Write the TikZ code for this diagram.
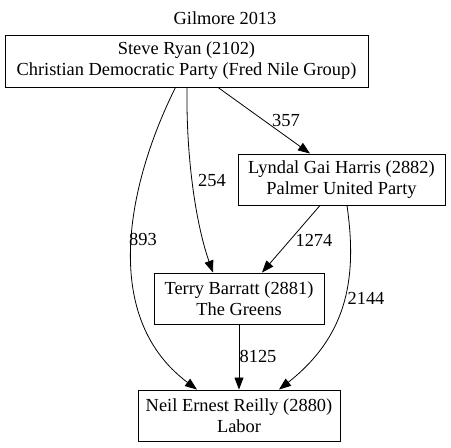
\documentclass[tikz,border=0pt]{standalone}
\usepackage{fontspec}
\setmainfont{Liberation Serif}
\newfontfamily\gvfont{Liberation Serif}
\usetikzlibrary{arrows.meta}
\begin{document}
\begin{tikzpicture}[x=1pt,y=-1pt,
  box/.style={draw,line width=0.9pt,inner sep=0pt,align=center,font=\gvfont\fontsize{18.4}{21}\selectfont},
  lbl/.style={inner sep=0pt,font=\gvfont\fontsize{18.4}{21}\selectfont},
  edge/.style={line width=0.8pt,-{Triangle[length=12pt,width=9pt]}}]
\useasboundingbox (0,0) rectangle (451,448);
\node[lbl] (title) at (225,18) {Gilmore 2013};
\node[box,minimum width=363pt,minimum height=52pt] (steve) at (186.5,61) {Steve Ryan (2102)\\Christian Democratic Party (Fred Nile Group)};
\node[box,minimum width=207pt,minimum height=51pt] (lyndal) at (341.5,179.5) {Lyndal Gai Harris (2882)\\Palmer United Party};
\node[box,minimum width=170pt,minimum height=51pt] (terry) at (239,298.5) {Terry Barratt (2881)\\The Greens};
\node[box,minimum width=202pt,minimum height=51pt] (neil) at (239,415.5) {Neil Ernest Reilly (2880)\\Labor};
\draw[edge] ([xshift=31.5pt]steve.south) -- ([xshift=-31.5pt]lyndal.north);
\draw[edge] ([xshift=0.5pt]steve.south) .. controls +(-1,75) and +(-16,-45) .. ([xshift=-26pt]terry.north);
\draw[edge] ([xshift=-11pt]steve.south) .. controls +(-45,90) and +(-100,-75) .. ([xshift=-42pt]neil.north);
\draw[edge] ([xshift=-21.5pt]lyndal.south) -- ([xshift=23pt]terry.north);
\draw[edge] ([xshift=5.5pt]lyndal.south) .. controls +(10,70) and +(70,-55) .. ([xshift=40pt]neil.north);
\draw[edge] (terry.south) -- (neil.north);
\node[lbl] (l357) at (286,120) {357};
\node[lbl] (l254) at (212,180) {254};
\node[lbl] (l893) at (143,239) {893};
\node[lbl] (l1274) at (314,240) {1274};
\node[lbl] (l2144) at (366,298) {2144};
\node[lbl] (l8125) at (258,356) {8125};
\end{tikzpicture}
\end{document}
